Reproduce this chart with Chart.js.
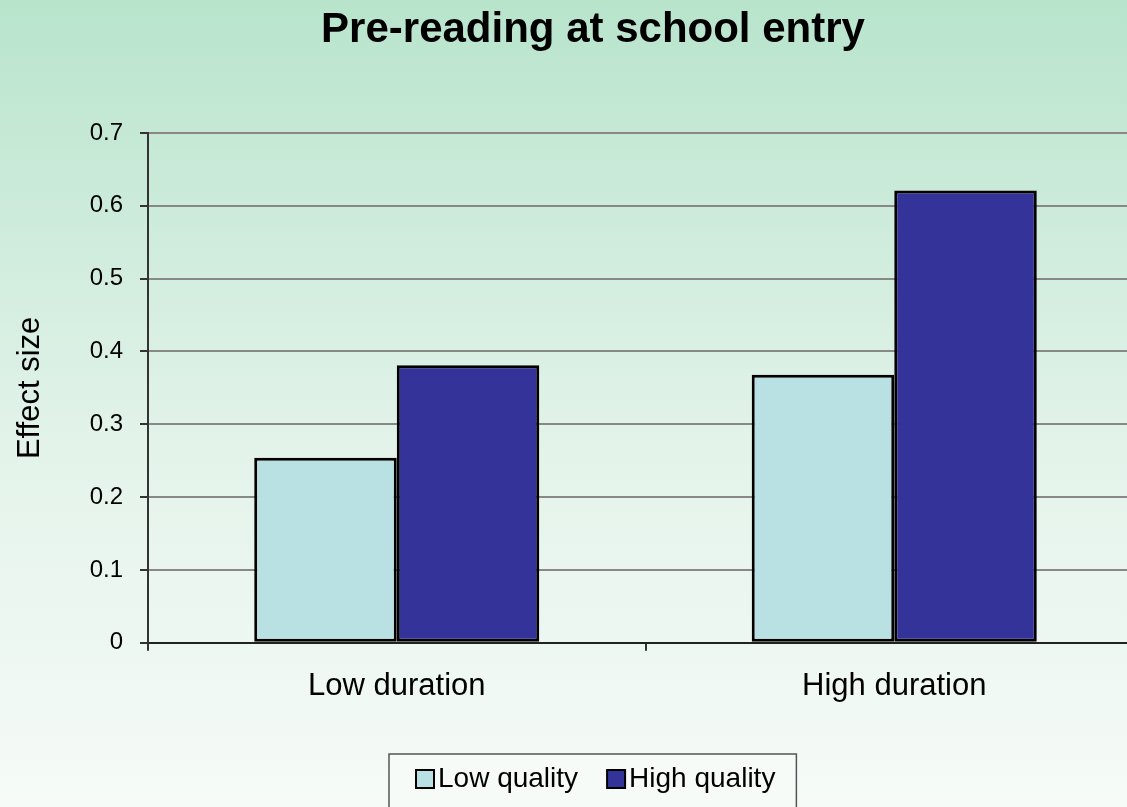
<!DOCTYPE html>
<html>
<head>
<meta charset="utf-8">
<script src="https://cdn.jsdelivr.net/npm/chart.js@4"></script>
<style>
  html, body { margin: 0; padding: 0; overflow: hidden; background: #f4faf7; }
  #wrap { width: 1186px; height: 830px; position: relative; }
</style>
</head>
<body>
<div id="wrap"><canvas id="chart"></canvas></div>
<script>
// data
const chartTitle = 'Pre-reading at school entry';
const categories = ['Low duration', 'High duration'];
const seriesNames = ['Low quality', 'High quality'];
const lowQuality = [0.254, 0.368];
const highQuality = [0.381, 0.621];
const yTicks = [0, 0.1, 0.2, 0.3, 0.4, 0.5, 0.6, 0.7];
const seriesColors = ['#b9e0e3', '#333399'];

const FONT = '"Liberation Sans", Arial, sans-serif';

// gradient background, green at top fading to near white
const background = {
  id: 'background',
  beforeDraw(chart) {
    const ctx = chart.ctx;
    const g = ctx.createLinearGradient(0, 0, 0, 807);
    g.addColorStop(0, '#b8e4cc');
    g.addColorStop(0.55, '#e3f3ea');
    g.addColorStop(1, '#f6fbf8');
    ctx.save();
    ctx.fillStyle = g;
    ctx.fillRect(0, 0, chart.width, chart.height);
    ctx.restore();
  }
};

// title centred on the whole slide, not on the padded box
const slideTitle = {
  id: 'slideTitle',
  afterDraw(chart) {
    const ctx = chart.ctx;
    ctx.save();
    ctx.font = 'bold 42px ' + FONT;
    ctx.fillStyle = '#000';
    ctx.textAlign = 'center';
    ctx.textBaseline = 'alphabetic';
    ctx.fillText(chartTitle, chart.width / 2, 42);
    ctx.restore();
  }
};

// boxed legend like the office chart: small square, tight gap, text
const boxedLegend = {
  id: 'boxedLegend',
  afterDraw(chart) {
    const ctx = chart.ctx;
    const ds = chart.data.datasets;
    ctx.save();
    ctx.font = '28px ' + FONT;
    const sq = 18, gap = 4, between = 29, padL = 27, padR = 21;
    let w = padL + padR;
    ds.forEach((d, i) => {
      w += sq + gap + ctx.measureText(d.label).width;
      if (i < ds.length - 1) w += between;
    });
    const left = Math.round(chart.width / 2 - w / 2);
    const top = chart.scales.x.bottom + 32;
    const h = 60;
    ctx.fillStyle = '#f6fbf8';
    ctx.fillRect(left, top, w, h);
    ctx.strokeStyle = '#555';
    ctx.lineWidth = 1.5;
    ctx.strokeRect(left, top, w, h);
    const cy = top + 25;
    let x = left + padL;
    ds.forEach(d => {
      ctx.fillStyle = d.backgroundColor;
      ctx.fillRect(x, cy - sq / 2, sq, sq);
      ctx.strokeStyle = '#000';
      ctx.lineWidth = 2;
      ctx.strokeRect(x, cy - sq / 2, sq, sq);
      x += sq + gap;
      ctx.fillStyle = '#000';
      ctx.textBaseline = 'middle';
      ctx.textAlign = 'left';
      ctx.fillText(d.label, x, cy);
      x += ctx.measureText(d.label).width + between;
    });
    ctx.restore();
  }
};

new Chart(document.getElementById('chart'), {
  type: 'bar',
  data: {
    labels: categories,
    datasets: [
      { label: seriesNames[0], data: lowQuality, backgroundColor: seriesColors[0] },
      { label: seriesNames[1], data: highQuality, backgroundColor: seriesColors[1] }
    ]
  },
  options: {
    responsive: true,
    maintainAspectRatio: false,
    devicePixelRatio: 1,
    animation: false,
    layout: { padding: { left: 0, right: 43, top: 133, bottom: 108 } },
    datasets: {
      bar: {
        categoryPercentage: 0.573,
        barPercentage: 1,
        borderColor: '#000',
        borderWidth: 3,
        borderSkipped: false
      }
    },
    plugins: {
      legend: { display: false },
      tooltip: { enabled: false },
      title: { display: false }
    },
    scales: {
      x: {
        grid: {
          drawOnChartArea: false,
          drawTicks: true,
          tickLength: 8,
          tickColor: '#333',
          lineWidth: 2
        },
        border: { color: '#222', width: 2 },
        ticks: {
          color: '#000',
          font: { family: FONT, size: 31 },
          padding: 17,
          maxRotation: 0
        }
      },
      y: {
        min: 0,
        max: 0.7,
        afterBuildTicks(scale) {
          scale.ticks = yTicks.map(v => ({ value: v }));
        },
        afterFit(scale) {
          scale.width = 148;
        },
        grid: {
          color: '#888',
          lineWidth: 2,
          tickLength: 8,
          tickColor: '#333'
        },
        border: { color: '#333', width: 2 },
        ticks: {
          color: '#000',
          font: { family: FONT, size: 24 },
          padding: 17,
          callback: v => String(v)
        },
        title: {
          display: true,
          text: 'Effect size',
          color: '#000',
          font: { family: FONT, size: 31 },
          padding: { top: 12, bottom: 0 }
        }
      }
    }
  },
  plugins: [background, slideTitle, boxedLegend]
});
</script>
</body>
</html>
